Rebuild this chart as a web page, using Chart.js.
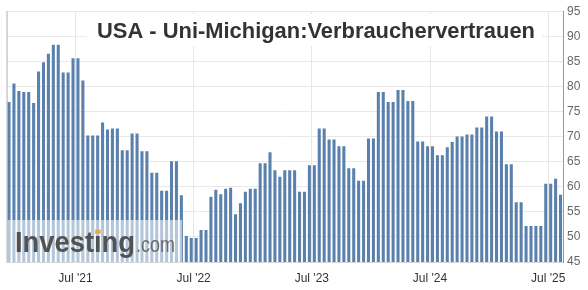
<!DOCTYPE html>
<html>
<head>
<meta charset="utf-8">
<script src="https://cdn.jsdelivr.net/npm/chart.js@4/dist/chart.umd.min.js"></script>
<style>
  html, body { margin: 0; padding: 0; background: #ffffff; }
  canvas { display: block; }
</style>
</head>
<body>
<canvas id="c" width="588" height="290"></canvas>
<script>
// ---- data ----
const months = ["Dec '20",
  "Jan '21","Feb '21","Mar '21","Apr '21","May '21","Jun '21","Jul '21","Aug '21","Sep '21","Oct '21","Nov '21","Dec '21",
  "Jan '22","Feb '22","Mar '22","Apr '22","May '22","Jun '22","Jul '22","Aug '22","Sep '22","Oct '22","Nov '22","Dec '22",
  "Jan '23","Feb '23","Mar '23","Apr '23","May '23","Jun '23","Jul '23","Aug '23","Sep '23","Oct '23","Nov '23","Dec '23",
  "Jan '24","Feb '24","Mar '24","Apr '24","May '24","Jun '24","Jul '24","Aug '24","Sep '24","Oct '24","Nov '24","Dec '24",
  "Jan '25","Feb '25","Mar '25","Apr '25","May '25","Jun '25","Jul '25","Aug '25"];
const halves = [" I", " II"];
const categories = months.flatMap(m => halves.map(h => m + h)).slice(0, 113);

const sentiment = [
  76.9, 80.6, 79.1, 78.9, 78.9, 76.7, 83.0, 84.8, 86.5, 88.3,
  88.3, 82.8, 82.8, 85.6, 85.6, 81.2, 70.2, 70.2, 70.2, 72.8,
  71.4, 71.6, 71.6, 67.3, 67.3, 70.6, 70.6, 67.1, 67.1, 62.8,
  62.8, 59.2, 59.2, 65.1, 65.1, 58.3, 50.2, 49.8, 49.8, 51.4,
  51.4, 58.0, 59.4, 58.5, 59.6, 59.8, 54.5, 56.7, 59.0, 59.6,
  59.6, 64.7, 64.7, 66.9, 63.3, 62.0, 63.3, 63.3, 63.3, 59.0,
  59.0, 64.3, 64.3, 71.6, 71.6, 69.4, 69.4, 68.1, 68.1, 63.7,
  63.7, 61.2, 61.2, 69.6, 69.6, 78.9, 78.9, 76.9, 76.9, 79.3,
  79.3, 77.1, 77.1, 69.0, 69.0, 68.1, 68.1, 66.3, 66.3, 67.9,
  68.9, 70.0, 70.0, 70.4, 70.4, 71.8, 71.8, 74.0, 74.0, 71.0,
  71.0, 64.5, 64.5, 56.9, 56.9, 52.2, 52.2, 52.2, 52.2, 60.6,
  60.6, 61.6, 58.4
];

const xTickLabels = ["Jul '21", "Jul '22", "Jul '23", "Jul '24", "Jul '25"];
const yMin = 45, yMax = 95, yStep = 5;
const titleText = "USA - Uni-Michigan:Verbrauchervertrauen";

// ---- helpers ----
function tickLabelAt(i) {
  const c = categories[i];
  if (!c || !c.endsWith(" I")) return "";
  const m = c.slice(0, -2);
  return xTickLabels.includes(m) ? m : "";
}

const FONT = "'Liberation Sans', Arial, sans-serif";

const decorPlugin = {
  id: 'decor',
  afterDatasetsDraw(chart) {
    const ctx = chart.ctx;
    const a = chart.chartArea;
    ctx.save();
    // watermark box
    ctx.fillStyle = 'rgba(255,255,255,0.55)';
    ctx.fillRect(a.left, 220, 182 - a.left, a.bottom - 220);
    // "Investing"
    ctx.textBaseline = 'alphabetic';
    ctx.font = "bold 29px " + FONT;
    const w1 = ctx.measureText("Investing").width;
    const sx1 = 120 / w1;
    ctx.save();
    ctx.translate(15, 251.5);
    ctx.scale(sx1, 1);
    ctx.fillStyle = 'rgba(70,70,70,0.92)';
    ctx.fillText("Investing", 0, 0);
    const wInvest = ctx.measureText("Invest").width;
    const wI = ctx.measureText("i").width;
    // orange dot on the second "i"
    ctx.fillStyle = 'rgba(240,176,70,0.9)';
    ctx.fillRect(wInvest + wI * 0.12, -22, wI * 0.76, 4.5);
    ctx.restore();
    // ".com"
    ctx.font = "22px " + FONT;
    const w2 = ctx.measureText(".com").width;
    ctx.save();
    ctx.translate(136, 251.5);
    ctx.scale(39 / w2, 1);
    ctx.fillStyle = 'rgba(95,95,95,0.9)';
    ctx.fillText(".com", 0, 0);
    ctx.restore();
    ctx.restore();
  },
  afterDraw(chart) {
    const ctx = chart.ctx;
    const a = chart.chartArea;
    ctx.save();
    // left frame line
    ctx.strokeStyle = '#b0b0b0';
    ctx.lineWidth = 1;
    ctx.beginPath();
    ctx.moveTo(a.left + 0.5, a.top);
    ctx.lineTo(a.left + 0.5, a.bottom);
    ctx.stroke();
    // title with white background
    ctx.fillStyle = '#ffffff';
    ctx.fillRect(87, 14, 455, 32);
    ctx.font = "bold 20px " + FONT;
    const tw = ctx.measureText(titleText).width;
    const size = 20 * 438 / tw;
    ctx.font = "bold " + size.toFixed(2) + "px " + FONT;
    ctx.fillStyle = '#333333';
    ctx.textAlign = 'center';
    ctx.textBaseline = 'middle';
    ctx.fillText(titleText, 316, 32);
    ctx.restore();
  }
};

new Chart(document.getElementById('c'), {
  type: 'bar',
  data: {
    labels: categories,
    datasets: [{
      data: sentiment,
      backgroundColor: '#5a80ad',
      borderWidth: 0,
      barPercentage: 0.62,
      categoryPercentage: 1.0
    }]
  },
  options: {
    responsive: false,
    animation: false,
    devicePixelRatio: 1,
    layout: { padding: { left: 4, top: 7, right: 0, bottom: 0 } },
    plugins: {
      legend: { display: false },
      tooltip: { enabled: false },
      title: { display: false }
    },
    scales: {
      x: {
        offset: true,
        grid: {
          offset: true,
          drawTicks: false,
          color: (c) => (c.index !== undefined && c.tick && tickLabelAt(c.index)) ? '#e6e6e6' : 'rgba(0,0,0,0)'
        },
        border: { display: true, color: '#d8d8d8' },
        ticks: {
          autoSkip: false,
          maxRotation: 0,
          minRotation: 0,
          padding: 9,
          labelOffset: -2.5,
          color: '#333333',
          font: { family: FONT, size: 12 },
          callback: (v, i) => tickLabelAt(i)
        },
        afterFit: (s) => { s.height = 28; }
      },
      y: {
        position: 'right',
        min: yMin,
        max: yMax,
        grid: { color: '#e8e8e8', drawTicks: false },
        border: { display: true, color: '#999999' },
        ticks: {
          stepSize: yStep,
          padding: 4,
          color: '#666666',
          font: { family: FONT, size: 12 }
        },
        afterFit: (s) => { s.width = 25; }
      }
    }
  },
  plugins: [decorPlugin]
});
</script>
</body>
</html>
